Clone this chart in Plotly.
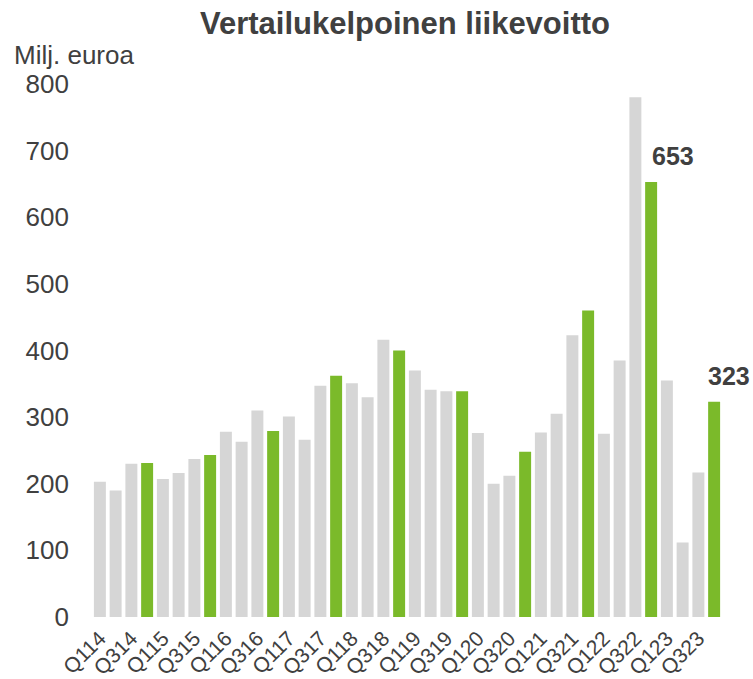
import plotly.graph_objects as go

quarters = [f"Q{q}{y}" for y in range(14, 24) for q in range(1, 5)]
values = [
    203, 190, 230, 231,
    207, 216, 237, 243,
    278, 263, 310, 279,
    301, 266, 347, 362,
    351, 330, 416, 400,
    370, 341, 339, 339,
    276, 200, 212, 248,
    277, 305, 423, 460,
    275, 385, 780, 653,
    355, 112, 217, 323,
]
tick_labels = quarters[::2]
labelled = ["Q422", "Q423"]
title_text = "Vertailukelpoinen liikevoitto"
unit_text = "Milj. euroa"

GREY = "#d6d6d6"
GREEN = "#7bba2a"
TEXT = "#404040"
FONT = "Liberation Sans, Arial, sans-serif"
colors = [GREEN if q.startswith("Q4") else GREY for q in quarters]

fig = go.Figure(go.Bar(x=quarters, y=values, marker=dict(color=colors, line=dict(width=0))))

W, H = 753, 679
ml, pw = 92, 630
mt, ph = 84, 533
mr = W - ml - pw
mb = H - mt - ph

label_shifts = [22, 15]
for q, xs in zip(labelled, label_shifts):
    v = values[quarters.index(q)]
    fig.add_annotation(x=q, y=v, text=f"<b>{v}</b>", showarrow=False,
                       xshift=xs, yshift=26, font=dict(size=25, color=TEXT, family=FONT))

fig.add_annotation(xref="paper", yref="paper", x=(12 - ml) / pw, y=(H - mb - 55) / ph,
                   xanchor="left", yanchor="middle", text=unit_text, showarrow=False,
                   font=dict(size=26, color=TEXT, family=FONT))

fig.update_layout(
    width=W, height=H,
    margin=dict(l=ml, r=mr, t=mt, b=mb, autoexpand=False),
    paper_bgcolor="white", plot_bgcolor="white",
    bargap=0.24,
    showlegend=False,
    font=dict(family=FONT, color=TEXT),
    title=dict(text=f"<b>{title_text}</b>", x=405 / W, xanchor="center",
               y=1 - 23 / H, yanchor="middle", xref="container", yref="container",
               font=dict(size=31, color=TEXT)),
    xaxis=dict(type="category", categoryorder="array", categoryarray=quarters,
               range=[-0.5, len(quarters) - 0.5],
               tickmode="array", tickvals=tick_labels, ticktext=tick_labels,
               tickangle=-45, showgrid=False, showline=False, zeroline=False,
               tickfont=dict(size=21, color=TEXT), ticks="", automargin=False,
               ticklabelstandoff=4),
    yaxis=dict(range=[0, 800], dtick=100, showgrid=False, showline=False,
               zeroline=False, tickfont=dict(size=26, color=TEXT),
               ticklabelstandoff=22, ticks="", automargin=False),
)

fig.write_html("out.html", config={"displayModeBar": False},
               post_script="document.body.style.margin='0';")
